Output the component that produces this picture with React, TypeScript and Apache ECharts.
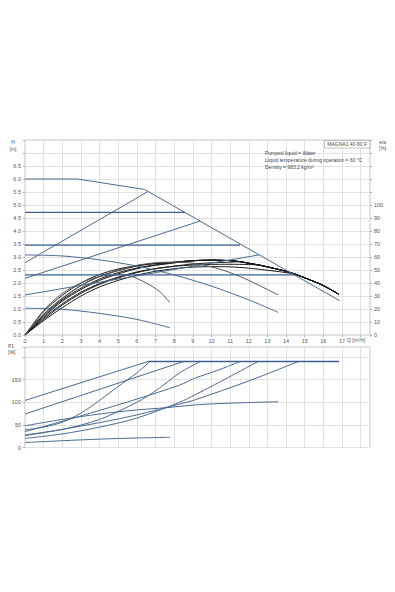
import React, { useEffect, useRef } from "react";
import * as echarts from "echarts";

// ---------- axis ranges ----------
const Q_MAX = 18.5;
const H_MAX = 7.5;
const ETA_MAX = 150;
const P_MAX = 222;

// ---------- pump curves: [Q m³/h, H m] ----------
const hMax: [number, number][] = [[0, 6.0], [2.8, 6.0], [6.4, 5.6], [6.6, 5.52], [16.87, 1.32]];
const hProp1: [number, number][] = [[0, 2.78], [6.6, 5.52]];
const hProp2: [number, number][] = [[0, 2.18], [9.38, 4.38]];
const hProp3: [number, number][] = [[0, 1.54], [12.55, 3.08]];
const hConst1: [number, number][] = [[0, 4.72], [8.58, 4.72]];
const hConst2: [number, number][] = [[0, 3.46], [11.53, 3.46]];
const hConst3: [number, number][] = [[0, 2.31], [14.48, 2.31]];
const hMid: [number, number][] = [[0, 3.08], [2, 3.04], [4, 2.89], [6, 2.65], [8, 2.31], [10, 1.88], [12, 1.35], [13.58, 0.87]];
const hMin: [number, number][] = [[0, 1.03], [2, 0.99], [4, 0.83], [6, 0.6], [7.77, 0.28]];

// ---------- efficiency curves: [Q, eta %] ----------
const etaTail: [number, number][] = [[6.6, 54.4], [7, 55], [8, 56], [9, 57.2], [10, 57.6], [11, 57.2], [11.53, 56.4], [12, 55.2], [12.55, 53.8], [13, 52.4], [14, 49], [14.48, 46.8], [15, 44], [16, 38], [16.84, 31.2]];
const etaMaxHead: [number, number][] = [[0, 0], [1, 16], [2, 28], [3, 38], [4, 45], [5, 49.5], [6, 53], [6.6, 54.4]];
const etaProp1Head: [number, number][] = [[0, 0], [1, 18], [2, 30.5], [3, 40], [4, 46.5], [5, 50.8], [6, 53.4], [6.6, 54.4]];
const etaConst1Head: [number, number][] = [[0, 0], [1, 14], [2, 26], [3, 35], [4, 42], [5, 47], [6, 51], [7, 53.6], [8, 55.4], [8.58, 56.7]];
const etaProp2Head: [number, number][] = [[0, 0], [1, 15], [2, 27], [3, 36], [4, 43], [5, 48], [6, 51.5], [7, 54], [8, 55.8], [9, 56.9], [9.38, 57.35]];
const etaConst2Head: [number, number][] = [[0, 0], [1, 12], [2, 23], [3, 32], [4, 39], [5, 44], [6, 48], [7, 51], [8, 53], [9, 54.6], [10, 55.5], [11, 56], [11.53, 56.4]];
const etaProp3Head: [number, number][] = [[0, 0], [1, 13], [2, 24], [3, 33], [4, 39.6], [5, 44.5], [6, 48.5], [7, 51], [8, 52.8], [9, 53.8], [10, 54.3], [11, 54.4], [12, 54.2], [12.55, 53.8]];
const etaConst3Head: [number, number][] = [[0, 0], [1, 11], [2, 21], [3, 30], [4, 37], [5, 42], [6, 46], [7, 49], [8, 51], [9, 52.2], [10, 52.6], [11, 52.4], [12, 51.4], [13, 49.8], [14, 48], [14.48, 46.8]];
const etaMid: [number, number][] = [[0, 0], [1, 16], [2, 28.4], [3, 38], [4, 45], [5, 50], [6, 53.6], [7, 55.6], [8, 56], [9, 55.2], [10, 52.4], [11, 48], [12, 42], [13, 35], [13.58, 30.8]];
const etaMin: [number, number][] = [[0, 0], [1, 19], [2, 32], [3, 40], [4, 45], [5, 46.4], [5.6, 45.6], [6.5, 40], [7.2, 33.6], [7.77, 25]];

// ---------- power curves: [Q, P1 W] ----------
const pMax: [number, number][] = [[0, 104], [6.6, 190]];
const pConst1: [number, number][] = [[0, 74], [8.5, 190]];
const pMid: [number, number][] = [[0, 48], [2, 62], [4, 74], [6, 83], [7.6, 88], [9.1, 94], [11, 98], [13.58, 101]];
const pProp1: [number, number][] = [[0, 39], [1, 45], [2, 56], [3, 76], [4, 104], [5, 135], [6, 165], [6.7, 190]];
const pConst2: [number, number][] = [[0, 35], [2, 58], [4, 82], [6, 107], [8.3, 138], [9.1, 153], [10.3, 170], [11.53, 190]];
const pProp2: [number, number][] = [[0, 28], [2, 40], [4, 62], [6, 100], [7, 125], [8.3, 165], [9.4, 190]];
const pProp3: [number, number][] = [[0, 20], [2, 30], [4, 45], [6, 65], [8.3, 100], [9.1, 116], [10.5, 146], [12.5, 190]];
const pConst3: [number, number][] = [[0, 26], [2, 40], [4, 55], [6, 72], [8.3, 96], [9.1, 105], [12, 147], [14.66, 190]];
const pMin: [number, number][] = [[0, 11], [2, 15], [4, 18.5], [6, 21], [7.77, 22.6]];
const pLimit: [number, number][] = [[6.6, 190], [16.84, 190]];

// ---------- texts ----------
const TITLE = "MAGNA1 40-60 F";
const INFO = ["Pumped liquid = Water", "Liquid temperature during operation = 60 °C", "Density = 983.2 kg/m³"];

const BLUE = "#4a6a92";
const BLUE_DARK = "#3c5f8c";
const BLACK = "#1a1a1a";
const GREY = "#585858";
const FONT = "'Liberation Sans', Arial, sans-serif";
const TXT = "#555";

function withTail(head: [number, number][]): [number, number][] {
  const last = head[head.length - 1][0];
  return head.concat(etaTail.filter((p) => p[0] > last + 0.05));
}

export default function App() {
  const ref = useRef<HTMLDivElement>(null);
  useEffect(() => {
    if (!ref.current) return;
    const chart = echarts.init(ref.current, undefined, { renderer: "svg" });

    const line = (data: [number, number][], color: string, width: number, xi: number, yi: number, smooth = false) => ({
      type: "line",
      data,
      xAxisIndex: xi,
      yAxisIndex: yi,
      showSymbol: false,
      symbol: "none",
      silent: true,
      smooth: smooth ? 0.3 : false,
      lineStyle: { color, width },
      z: 3,
    });

    const splitLine = { show: true, lineStyle: { color: "#e2e2e2", width: 1 } };
    const tick = { show: true, length: 2, lineStyle: { color: "#999", width: 0.8 } };
    const lab = { fontSize: 5.5, color: TXT, fontFamily: FONT };

    const option: any = {
      animation: false,
      backgroundColor: "#fff",
      grid: [
        { left: 25, top: 140, width: 345, height: 195, show: true, borderColor: "#c4c4c4", borderWidth: 1, backgroundColor: "transparent" },
        { left: 25, top: 347, width: 345, height: 100.5, show: true, borderColor: "#c4c4c4", borderWidth: 1, backgroundColor: "transparent" },
      ],
      xAxis: [
        {
          gridIndex: 0, type: "value", min: 0, max: Q_MAX, interval: 1,
          axisLine: { show: false }, axisTick: tick, splitLine,
          axisLabel: { ...lab, margin: 3, formatter: (v: number) => (v <= 17 ? String(v) : "") },
        },
        {
          gridIndex: 1, type: "value", min: 0, max: Q_MAX, interval: 1,
          axisLine: { show: false }, axisTick: { show: false }, splitLine,
          axisLabel: { show: false },
        },
      ],
      yAxis: [
        {
          gridIndex: 0, type: "value", min: 0, max: H_MAX, interval: 0.5,
          axisLine: { show: false }, axisTick: tick, splitLine,
          axisLabel: { ...lab, margin: 4, formatter: (v: number) => (v <= 6.5 ? v.toFixed(1) : "") },
        },
        {
          gridIndex: 0, type: "value", position: "right", min: 0, max: ETA_MAX, interval: 10,
          axisLine: { show: false }, axisTick: tick, splitLine: { show: false },
          axisLabel: { ...lab, margin: 4, formatter: (v: number) => (v <= 100 ? String(v) : "") },
        },
        {
          gridIndex: 1, type: "value", min: 0, max: P_MAX, interval: 50,
          axisLine: { show: false }, axisTick: tick, splitLine,
          axisLabel: { ...lab, margin: 4, formatter: (v: number) => (v <= 150 ? String(v) : "") },
        },
      ],
      series: [
        // efficiency
        line(withTail(etaMaxHead), BLACK, 1, 0, 1, true),
        line(withTail(etaProp1Head), BLACK, 1, 0, 1, true),
        line(withTail(etaConst1Head), BLACK, 1, 0, 1, true),
        line(withTail(etaProp2Head), BLACK, 1, 0, 1, true),
        line(withTail(etaConst2Head), BLACK, 1, 0, 1, true),
        line(withTail(etaProp3Head), BLACK, 1, 0, 1, true),
        line(withTail(etaConst3Head), BLACK, 1, 0, 1, true),
        line(etaMid, GREY, 1, 0, 1, true),
        line(etaMin, GREY, 1, 0, 1, true),
        // head
        line(hMax, BLUE, 1, 0, 0, false),
        line(hProp1, BLUE, 1, 0, 0),
        line(hProp2, BLUE, 1, 0, 0),
        line(hProp3, BLUE, 1, 0, 0),
        line(hConst1, BLUE_DARK, 1.3, 0, 0),
        line(hConst2, BLUE_DARK, 1.3, 0, 0),
        line(hConst3, BLUE_DARK, 1.3, 0, 0),
        line(hMid, BLUE, 1, 0, 0, true),
        line(hMin, BLUE, 1, 0, 0, true),
        // power
        line(pMax, BLUE, 1, 1, 2),
        line(pConst1, BLUE, 1, 1, 2),
        line(pMid, BLUE, 1, 1, 2, true),
        line(pProp1, BLUE, 1, 1, 2, true),
        line(pConst2, BLUE, 1, 1, 2, true),
        line(pProp2, BLUE, 1, 1, 2, true),
        line(pProp3, BLUE, 1, 1, 2, true),
        line(pConst3, BLUE, 1, 1, 2, true),
        line(pMin, BLUE, 1, 1, 2, true),
        line(pLimit, BLUE_DARK, 1.3, 1, 2),
      ],
      graphic: [
        { type: "text", x: 13, y: 142, style: { text: "H", fontSize: 5, fill: TXT, fontFamily: FONT, align: "center", verticalAlign: "middle" } },
        { type: "text", x: 13, y: 148.5, style: { text: "[m]", fontSize: 5, fill: TXT, fontFamily: FONT, align: "center", verticalAlign: "middle" } },
        { type: "text", x: 379, y: 142, style: { text: "eta", fontSize: 5, fill: TXT, fontFamily: FONT, align: "left", verticalAlign: "middle" } },
        { type: "text", x: 379, y: 147.5, style: { text: "[%]", fontSize: 5, fill: TXT, fontFamily: FONT, align: "left", verticalAlign: "middle" } },
        { type: "text", x: 8, y: 346, style: { text: "P1", fontSize: 5, fill: TXT, fontFamily: FONT, align: "left", verticalAlign: "middle" } },
        { type: "text", x: 8, y: 352, style: { text: "[W]", fontSize: 5, fill: TXT, fontFamily: FONT, align: "left", verticalAlign: "middle" } },
        { type: "text", x: 347, y: 339.5, style: { text: "Q [m³/h]", fontSize: 5, fill: TXT, fontFamily: FONT, align: "left", verticalAlign: "middle" } },
        { type: "rect", shape: { x: 324.5, y: 140.5, width: 45.5, height: 7.5 }, style: { fill: "#fff", stroke: "#999", lineWidth: 0.6 }, z: 10 },
        { type: "text", x: 347.2, y: 144.3, z: 11, style: { text: TITLE, fontSize: 5, fill: "#444", fontFamily: FONT, align: "center", verticalAlign: "middle" } },
        ...INFO.map((t, i) => ({
          type: "text", x: 265, y: 153 + i * 7, z: 11,
          style: { text: t, fontSize: 5, fill: "#444", fontFamily: FONT, align: "left", verticalAlign: "middle" },
        })),
      ],
    };
    chart.setOption(option);
    return () => chart.dispose();
  }, []);

  return (
    <div
      ref={ref}
      style={{ position: "fixed", left: 0, top: 0, width: 395, height: 592, background: "#fff" }}
    />
  );
}
